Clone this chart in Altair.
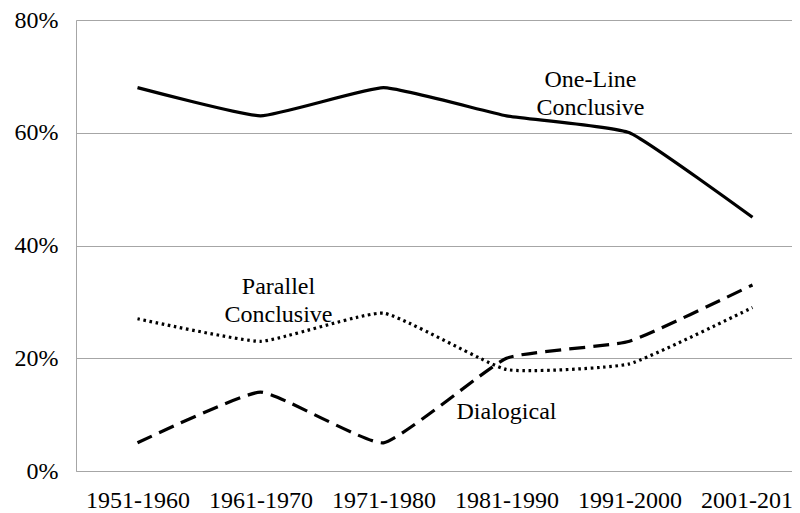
import altair as alt
import pandas as pd

periods = ["1951-1960", "1961-1970", "1971-1980", "1981-1990", "1991-2000", "2001-2010"]
one_line = [68, 63, 68, 63, 60, 45]
parallel = [27, 23, 28, 18, 19, 29]
dialogical = [5, 14, 5, 20, 23, 33]

series_names = ["One-Line Conclusive", "Parallel Conclusive", "Dialogical"]
series_values = [one_line, parallel, dialogical]

label_texts = ["One-Line\nConclusive", "Parallel\nConclusive", "Dialogical"]
label_periods = ["1981-1990", "1961-1970", "1981-1990"]
label_levels = [69.4, 32.6, 10.4]
label_dx = [84, 18, 0]

FONT = "Liberation Serif"

rows = []
for name, vals in zip(series_names, series_values):
    for p, v in zip(periods, vals):
        rows.append({"series": name, "period": p, "value": v / 100})
df = pd.DataFrame(rows)

x = alt.X("period:N", sort=periods, title=None,
          scale=alt.Scale(type="point", padding=0.5, range=[0, 738]),
          axis=alt.Axis(labelAngle=0, ticks=False, domainColor="#a6a6a6",
                        labelFont=FONT, labelFontSize=24, labelColor="black",
                        labelPadding=17, grid=False, labelOverlap=False))
y = alt.Y("value:Q", title=None,
          scale=alt.Scale(domain=[0, 0.8], nice=False, zero=True),
          axis=alt.Axis(values=[0, 0.2, 0.4, 0.6, 0.8], format=".0%", ticks=False,
                        domain=True, domainColor="#a6a6a6",
                        gridColor="#a6a6a6", gridWidth=1,
                        labelFont=FONT, labelFontSize=24, labelColor="black",
                        labelPadding=18))

def line(name, dash):
    kw = dict(color="black", strokeWidth=3.2, interpolate="cardinal", tension=0.6)
    if dash:
        kw["strokeDash"] = dash
    return alt.Chart(df).transform_filter(alt.datum.series == name).mark_line(**kw).encode(
        x=x, y=y)

l1 = line("One-Line Conclusive", None)
l2 = line("Parallel Conclusive", [2.6, 3.6])
l3 = line("Dialogical", [16, 8])

texts = []
for t, p, lv, dx in zip(label_texts, label_periods, label_levels, label_dx):
    tdf = pd.DataFrame({"text": [t], "period": [p], "value": [lv / 100]})
    texts.append(alt.Chart(tdf).mark_text(font=FONT, fontSize=24, color="black",
                                         align="center", baseline="middle",
                                         lineBreak="\n", lineHeight=28, dx=dx).encode(
        x=alt.X("period:N", sort=periods), y="value:Q", text="text:N"))

chart = alt.layer(l1, l2, l3, *texts).properties(
    width=716, height=451,
    autosize=alt.AutoSizeParams(type="none"),
    padding={"left": 68, "top": 12, "right": 0, "bottom": 42},
).configure_view(stroke=None).configure(background="white", font=FONT)

chart.save("out.html", embed_options={"renderer": "svg", "actions": False})
